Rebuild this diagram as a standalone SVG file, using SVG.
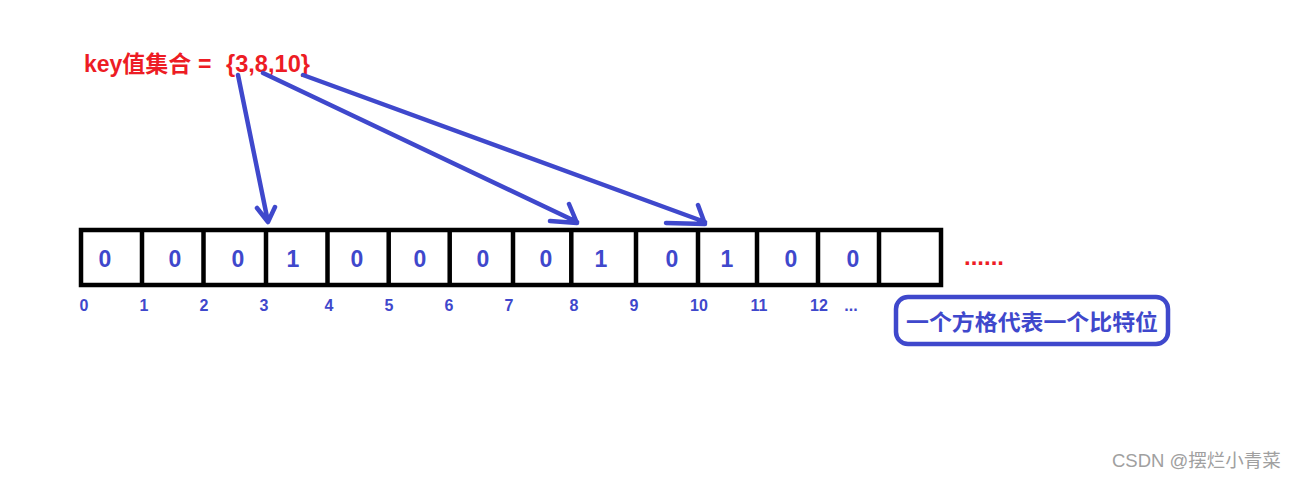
<svg xmlns="http://www.w3.org/2000/svg" width="1297" height="479" viewBox="0 0 1297 479">
<style>
.cell{fill:#fff;stroke:#000;stroke-width:4.5}
.bit{font-family:"Liberation Sans",sans-serif;font-weight:bold;font-size:23px;fill:#3f48cc;text-anchor:middle}
.idx{font-family:"Liberation Sans",sans-serif;font-weight:bold;font-size:16px;fill:#3f48cc;text-anchor:middle}
.title{font-family:"Liberation Sans","Noto Sans CJK SC",sans-serif;font-weight:bold;font-size:23px;fill:#ed1c24}
.arrow{fill:none;stroke:#3f48cc;stroke-width:4.5;stroke-linecap:round;stroke-linejoin:round}
.note{font-family:"Noto Sans CJK SC",sans-serif;font-weight:bold;font-size:22px;fill:#3f48cc}
.wm{font-family:"Liberation Sans","Noto Sans CJK SC",sans-serif;font-size:18.5px;fill:#a0a0a0}
</style>
<rect width="1297" height="479" fill="#fff"/>
<g id="title">
<text class="title" y="72"><tspan x="84">key值集合</tspan><tspan x="198">=</tspan><tspan x="226" textLength="84" lengthAdjust="spacingAndGlyphs">{3,8,10}</tspan></text>
</g>
<g id="array">
<rect class="cell" x="81" y="230" width="860" height="55"/>
<path d="M142 230V285M203.5 230V285M266 230V285M327.5 230V285M388.7 230V285M449.7 230V285M513 230V285M571.3 230V285M636 230V285M698 230V285M757 230V285M818 230V285M879 230V285" stroke="#000" stroke-width="4.5"/>
<text class="bit" x="105" y="267">0</text>
<text class="bit" x="175" y="267">0</text>
<text class="bit" x="238" y="267">0</text>
<text class="bit" x="293" y="267">1</text>
<text class="bit" x="357" y="267">0</text>
<text class="bit" x="420" y="267">0</text>
<text class="bit" x="483" y="267">0</text>
<text class="bit" x="546" y="267">0</text>
<text class="bit" x="601" y="267">1</text>
<text class="bit" x="672" y="267">0</text>
<text class="bit" x="727" y="267">1</text>
<text class="bit" x="791" y="267">0</text>
<text class="bit" x="853" y="267">0</text>
</g>
<g id="indices">
<text class="idx" x="84" y="311">0</text>
<text class="idx" x="144" y="311">1</text>
<text class="idx" x="204" y="311">2</text>
<text class="idx" x="264" y="311">3</text>
<text class="idx" x="329" y="311">4</text>
<text class="idx" x="389" y="311">5</text>
<text class="idx" x="449" y="311">6</text>
<text class="idx" x="509" y="311">7</text>
<text class="idx" x="574" y="311">8</text>
<text class="idx" x="634" y="311">9</text>
<text class="idx" x="699" y="311">10</text>
<text class="idx" x="759" y="311">11</text>
<text class="idx" x="819" y="311">12</text>
<text class="idx" x="851" y="311">...</text>
</g>
<g id="dots">
<text x="964" y="265" font-family="Liberation Sans,sans-serif" font-weight="bold" font-size="24" fill="#ed1c24">......</text>
</g>
<g id="note">
<rect x="896" y="297" width="272" height="47" rx="12" ry="12" fill="none" stroke="#3f48cc" stroke-width="4.5"/>
<text class="note" x="906" y="330" textLength="252" lengthAdjust="spacingAndGlyphs">一个方格代表一个比特位</text>
</g>
<g id="connectors">
<path class="arrow" d="M238 75L268 222M257 208L268 222L275 207"/>
<path class="arrow" d="M263 73L577 222M550 221L577 223L569 204"/>
<path class="arrow" d="M303 75L705 222M666 223L705 224L698 205"/>
</g>
<g id="watermark">
<text class="wm" x="1112" y="467">CSDN @摆烂小青菜</text>
</g>
</svg>
